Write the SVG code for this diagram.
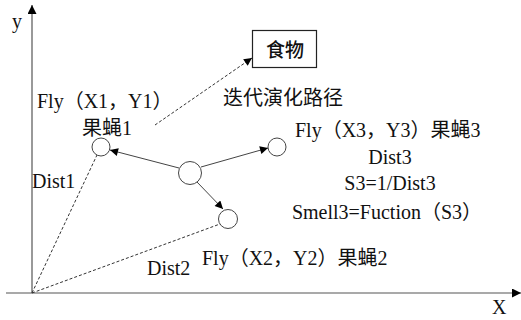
<svg xmlns="http://www.w3.org/2000/svg" width="521" height="320" viewBox="0 0 521 320">
<defs>
<style>
.t{font-family:"Liberation Serif","Noto Sans CJK SC",serif;font-size:20px;fill:#111}
.cjk{font-family:"Noto Sans CJK SC","Liberation Serif",sans-serif;fill:#111}
.ax{stroke:#555;stroke-width:1.2;fill:none}
.sol{stroke:#444;stroke-width:1;fill:none}
.dsh{stroke:#333;stroke-width:1;stroke-dasharray:3 2;fill:none}
.c{fill:#fff;stroke:#444;stroke-width:1}
</style>
<marker id="ah" viewBox="0 0 10 10" refX="10" refY="5" markerWidth="11" markerHeight="8" orient="auto" markerUnits="userSpaceOnUse"><path d="M0,0 L10,5 L0,10 z" fill="#000"/></marker>
<marker id="axh" viewBox="0 0 10 10" refX="10" refY="5" markerWidth="13" markerHeight="9" orient="auto" markerUnits="userSpaceOnUse"><path d="M0,0 L10,5 L0,10 z" fill="#000"/></marker>
</defs>
<rect width="521" height="320" fill="#fff"/>
<g id="axes">
<line class="ax" x1="32" y1="293" x2="32" y2="5" marker-end="url(#axh)"/>
<line class="ax" x1="6" y1="293" x2="521" y2="293" marker-end="url(#axh)"/>
<text class="t" x="12" y="28">y</text>
<text class="t" x="492" y="314" style="font-size:20px">X</text>
</g>
<g id="connectors">
<line class="sol" x1="179" y1="168" x2="110" y2="150" marker-end="url(#ah)"/>
<line class="sol" x1="201" y1="167" x2="268" y2="148" marker-end="url(#ah)"/>
<line class="sol" x1="197" y1="182" x2="223" y2="209" marker-end="url(#ah)"/>
<line class="dsh" x1="155" y1="125" x2="252" y2="58" marker-end="url(#ah)"/>
<line class="dsh" x1="32" y1="293" x2="97" y2="155"/>
<line class="dsh" x1="32" y1="293" x2="220" y2="224"/>
</g>
<g id="food">
<rect x="252.5" y="30.5" width="64" height="37" fill="#fff" stroke="#222" stroke-width="1.2"/>
<text class="cjk" x="285" y="57" text-anchor="middle" style="font-size:19px;font-weight:500">食物</text>
</g>
<g id="fly1">
<circle class="c" cx="101" cy="147" r="9"/>
<text class="t" x="37" y="108">Fly（X1，Y1）</text>
<text class="t" x="82" y="135">果蝇1</text>
</g>
<g id="center">
<circle class="c" cx="190" cy="173" r="11.5"/>
</g>
<g id="fly3">
<circle class="c" cx="277" cy="147" r="9"/>
<text class="t" x="295" y="137">Fly（X3，Y3）果蝇3</text>
<text class="t" x="390" y="164" text-anchor="middle">Dist3</text>
<text class="t" x="390" y="190" text-anchor="middle">S3=1/Dist3</text>
<text class="t" x="387" y="219" text-anchor="middle">Smell3=Fuction（S3）</text>
</g>
<g id="fly2">
<circle class="c" cx="228" cy="219" r="9.5"/>
<text class="t" x="202" y="265">Fly（X2，Y2）果蝇2</text>
</g>
<g id="labels">
<text class="cjk" x="223" y="105" style="font-size:20px">迭代演化路径</text>
<text class="t" x="32" y="188">Dist1</text>
<text class="t" x="147" y="275">Dist2</text>
</g>
</svg>
